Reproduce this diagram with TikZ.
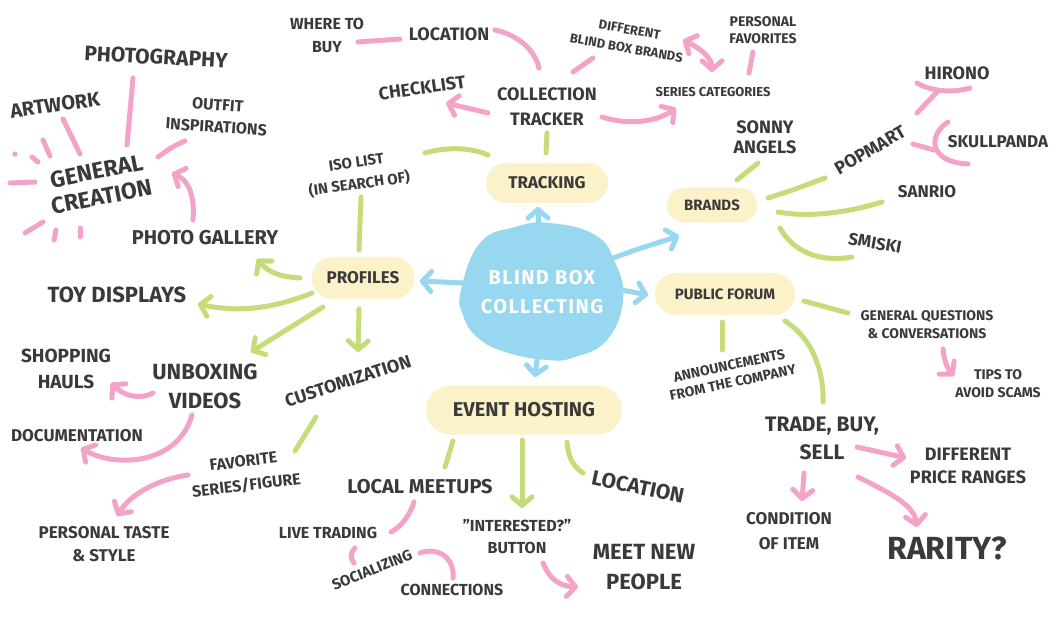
\documentclass[tikz,border=0pt]{standalone}
\usepackage{fontspec}
\setmainfont{Fira Sans}
\usetikzlibrary{arrows.meta}
\definecolor{pk}{HTML}{F4A3C8}
\definecolor{gr}{HTML}{C5DD79}
\definecolor{bl}{HTML}{97D7EF}
\definecolor{yl}{HTML}{FCF2CA}
\definecolor{tx}{HTML}{3A3A3A}
\newcommand\fz[2]{\fontsize{#1}{#2}\selectfont}
\tikzset{
  lbl/.style={text=tx, align=center, inner sep=1pt},
  pill/.style={fill=yl, inner sep=0pt, text=tx, align=center},
  pkl/.style={draw=pk, line width=3.75pt, line cap=round, line join=round},
  grl/.style={draw=gr, line width=3.75pt, line cap=round, line join=round},
  bll/.style={draw=bl, line width=3.75pt, line cap=round, line join=round},
  hd/.style={-{Straight Barb[length=6.5pt,width=15pt,round]}},
  hdb/.style={{Straight Barb[length=6.5pt,width=15pt,round]}-{Straight Barb[length=6.5pt,width=15pt,round]}}
}
\begin{document}
\begin{tikzpicture}[x=0.75pt,y=-0.75pt]
\useasboundingbox (0,0) rectangle (1056,620);
\fill[white] (0,0) rectangle (1056,620);

% ---------- centre blob ----------
\fill[bl] plot[smooth cycle, tension=0.75] coordinates {(461,290) (480,243) (515,227) (550,223) (595,235) (615,262) (623,300) (607,340) (575,357) (547,360) (505,352) (477,337) (463,315)};
\node[lbl, text=white, font=\bfseries\fz{15}{21.75}\addfontfeatures{LetterSpace=7}] (center) at (542,292) {BLIND BOX\\COLLECTING};

% ---------- pills ----------
\node[pill, minimum width=91.5pt, minimum height=30pt, rounded corners=15pt, font=\bfseries\fz{12.75}{15}] (tracking) at (547,183) {TRACKING};
\node[pill, minimum width=77pt, minimum height=31.5pt, rounded corners=15.7pt, font=\bfseries\fz{12.75}{15}] (profiles) at (363,278) {PROFILES};
\node[pill, minimum width=67.5pt, minimum height=26.25pt, rounded corners=13pt, font=\bfseries\fz{11.25}{13}] (brands) at (712,205) {BRANDS};
\node[pill, minimum width=105pt, minimum height=31.5pt, rounded corners=15.7pt, font=\bfseries\fz{11.25}{13}] (forum) at (725,294) {PUBLIC FORUM};
\node[pill, minimum width=147pt, minimum height=36.75pt, rounded corners=18.3pt, font=\bfseries\fz{15}{17}] (event) at (524,410) {EVENT HOSTING};

% ---------- text nodes: top left ----------
\node[lbl, font=\bfseries\fz{15.75}{18}, rotate=-3] (photography) at (156,57) {PHOTOGRAPHY};
\node[lbl, font=\bfseries\fz{15}{17}, rotate=8] (artwork) at (55,105) {ARTWORK};
\node[lbl, font=\bfseries\fz{17.25}{19.5}, rotate=11] (general) at (99,184) {GENERAL\\CREATION};
\node[lbl, font=\bfseries\fz{12}{16.5}, rotate=-4] (outfit) at (217,116) {OUTFIT\\INSPIRATIONS};
\node[lbl, font=\bfseries\fz{15}{17}] (gallery) at (205,238) {PHOTO GALLERY};

% ---------- top middle ----------
\node[lbl, font=\bfseries\fz{12}{17.25}] (where) at (327,35) {WHERE TO\\BUY};
\node[lbl, font=\bfseries\fz{13.5}{16}] (location1) at (449,34) {LOCATION};
\node[lbl, font=\bfseries\fz{13.5}{16}, rotate=8] (checklist) at (422,88) {CHECKLIST};
\node[lbl, font=\bfseries\fz{13.5}{18.75}] (tracker) at (547,107) {COLLECTION\\TRACKER};
\node[lbl, font=\bfseries\fz{9.75}{14}, rotate=-10] (brandsdiff) at (628,39) {DIFFERENT\\BLIND BOX BRANDS};
\node[lbl, font=\bfseries\fz{11.25}{16.5}, rotate=8] (iso) at (358,174) {ISO LIST\\(IN SEARCH OF)};

% ---------- top right ----------
\node[lbl, font=\bfseries\fz{10.5}{12.75}] (favs) at (763,30) {PERSONAL\\FAVORITES};
\node[lbl, font=\bfseries\fz{9.75}{12}] (series) at (713,92) {SERIES CATEGORIES};
\node[lbl, font=\bfseries\fz{13.5}{15}] (sonny) at (765,137) {SONNY\\ANGELS};
\node[lbl, font=\bfseries\fz{13.5}{16}, rotate=30] (popmart) at (870,150) {POPMART};
\node[lbl, font=\bfseries\fz{13.5}{16}] (hirono) at (957,73) {HIRONO};
\node[lbl, font=\bfseries\fz{12.75}{15}] (skull) at (998,142) {SKULLPANDA};
\node[lbl, font=\bfseries\fz{12.75}{15}] (sanrio) at (927,192) {SANRIO};
\node[lbl, font=\bfseries\fz{12.75}{15}, rotate=-10] (smiski) at (875,243) {SMISKI};

% ---------- left middle ----------
\node[lbl, font=\bfseries\fz{16.5}{19}] (toy) at (117,295) {TOY DISPLAYS};
\node[lbl, font=\bfseries\fz{14.25}{19.5}] (hauls) at (66,369) {SHOPPING\\HAULS};
\node[lbl, font=\bfseries\fz{16.5}{21.75}] (unboxing) at (205,386) {UNBOXING\\VIDEOS};
\node[lbl, font=\bfseries\fz{12.75}{14}] (docu) at (77,436) {DOCUMENTATION};
\node[lbl, font=\bfseries\fz{13.5}{16}, rotate=18] (custom) at (348,381) {CUSTOMIZATION};
\node[lbl, font=\bfseries\fz{12}{18}, rotate=7] (fav) at (245,474) {FAVORITE\\SERIES/FIGURE};
\node[lbl, font=\bfseries\fz{12.75}{17.25}] (taste) at (104,544) {PERSONAL TASTE\\\& STYLE};

% ---------- bottom middle ----------
\node[lbl, font=\bfseries\fz{15}{17}] (meetups) at (420,487) {LOCAL MEETUPS};
\node[lbl, font=\bfseries\fz{15.75}{18}, rotate=-12] (location2) at (638,487) {LOCATION};
\node[lbl, font=\bfseries\fz{12}{14}] (live) at (328,533) {LIVE TRADING};
\node[lbl, font=\bfseries\fz{11.25}{13}, rotate=22] (social) at (372,570) {SOCIALIZING};
\node[lbl, font=\bfseries\fz{12}{14}] (connect) at (452,590) {CONNECTIONS};
\node[lbl, font=\bfseries\fz{12}{16.5}] (button) at (517,537) {{\char34}INTERESTED?{\char34}\\BUTTON};
\node[lbl, font=\bfseries\fz{16.5}{22}] (meet) at (644,567) {MEET NEW\\PEOPLE};

% ---------- bottom right ----------
\node[lbl, font=\bfseries\fz{10.5}{13}, rotate=12] (announce) at (731,374) {ANNOUNCEMENTS\\FROM THE COMPANY};
\node[lbl, font=\bfseries\fz{10.5}{13.5}] (questions) at (927,325) {GENERAL QUESTIONS\\\& CONVERSATIONS};
\node[lbl, font=\bfseries\fz{10.5}{13.5}] (tips) at (998,384) {TIPS TO\\AVOID SCAMS};
\node[lbl, font=\bfseries\fz{15.75}{21}] (trade) at (822,438) {TRADE, BUY,\\SELL};
\node[lbl, font=\bfseries\fz{13.5}{17.25}] (price) at (968,466) {DIFFERENT\\PRICE RANGES};
\node[lbl, font=\bfseries\fz{12.75}{18.75}] (condition) at (789,531) {CONDITION\\OF ITEM};
\node[lbl, font=\bfseries\fz{24}{26}] (rarity) at (947,548) {RARITY?};

% ---------- blue arrows from centre ----------
\draw[bll, hd] (538,223) -- (538,207);
\draw[bll, hd] (463,283) -- (420,281);
\draw[bll, hd] (622,290) -- (648,295);
\draw[bll, hd] (613,258) .. controls (635,250) .. (679,236);
\draw[bll, hd] (537,360) -- (535,377);

% ---------- tracking branch ----------
\draw[grl] (546,153) -- (547,133);
\draw[grl] (488,155) .. controls (470,147) and (445,147) .. (425,153);
\draw[grl] (361,197) -- (359,250);
\draw[pkl] (358,42) -- (400,39);
\draw[pkl] (495,30) .. controls (518,35) and (535,50) .. (539,68);
\draw[pkl, hd] (488,113) -- (446,103);
\draw[pkl] (573,72) -- (593,58);
\draw[pkl, hd] (602,117) .. controls (630,126) and (658,121) .. (676,108);
\draw[pkl, hdb] (683,40) .. controls (700,48) and (712,58) .. (712,72);
\draw[pkl] (753,52) -- (749,73);

% ---------- brands branch ----------
\draw[grl] (737,180) -- (758,163);
\draw[grl] (768,198) .. controls (790,191) .. (825,178);
\draw[grl] (778,212) .. controls (810,218) and (850,212) .. (882,202);
\draw[grl] (780,228) .. controls (795,255) and (825,262) .. (852,257);
\draw[pkl] (917,83) .. controls (928,90) and (950,94) .. (970,88);
\draw[pkl] (937,92) -- (917,113);
\draw[pkl] (948,122) .. controls (928,135) and (928,162) .. (968,164);
\draw[pkl] (913,144) -- (934,150);

% ---------- general creation burst ----------
\draw[pkl] (133,78) -- (127,145);
\draw[pkl] (63,119) -- (80,154);
\draw[pkl] (185,141) .. controls (172,147) .. (158,157);
\draw[pkl, hd] (193,220) .. controls (195,195) and (188,180) .. (172,173);
\draw[pkl] (15,154) -- (15.2,154.2);
\draw[pkl] (32,157) -- (38,162);
\draw[pkl] (43,140) -- (50,156);
\draw[pkl] (10,183) -- (35,182);
\draw[pkl] (25,233) -- (43,222);
\draw[pkl] (54,240) -- (56,230);
\draw[pkl] (80,237) -- (80,228);

% ---------- profiles branch ----------
\draw[grl, hd] (300,278) .. controls (280,277) and (268,272) .. (257,259);
\draw[grl, hd] (312,293) .. controls (270,310) and (235,312) .. (198,304);
\draw[grl, hd] (323,307) -- (251,352);
\draw[grl, hd] (359,309) -- (358,352);
\draw[pkl, hd] (153,393) .. controls (140,400) and (124,396) .. (111,383);
\draw[pkl, hd] (192,415) .. controls (178,465) and (115,468) .. (81,448);
\draw[grl] (316,417) -- (295,451);
\draw[pkl, hd] (188,475) .. controls (155,480) and (130,495) .. (117,516);

% ---------- event hosting branch ----------
\draw[grl] (453,441) -- (445,467);
\draw[grl, hd] (522,440) -- (522,508);
\draw[grl] (567,442) .. controls (568,458) and (574,467) .. (583,473);
\draw[pkl] (414,502) .. controls (410,515) and (402,526) .. (391,532);
\draw[pkl] (355,548) .. controls (350,553) and (350,558) .. (354,563);
\draw[pkl] (420,553) .. controls (440,546) and (455,560) .. (453,578);
\draw[pkl, hd] (543,563) .. controls (550,580) and (560,586) .. (578,587);

% ---------- public forum branch ----------
\draw[grl] (722,322) -- (722,350);
\draw[grl] (785,321) .. controls (812,338) and (824,370) .. (823,402);
\draw[grl] (804,301) -- (848,313);
\draw[pkl, hd] (943,349) .. controls (944,360) and (947,368) .. (954,376);
\draw[pkl, hd] (857,447) -- (906,458);
\draw[pkl, hd] (804,473) -- (802,501);
\draw[pkl, hd] (858,477) .. controls (890,493) and (914,505) .. (917,527);
\end{tikzpicture}
\end{document}
